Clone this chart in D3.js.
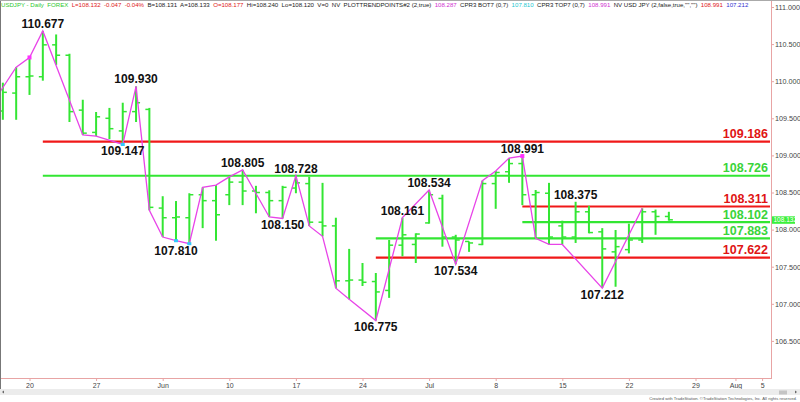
<!DOCTYPE html>
<html><head><meta charset="utf-8">
<script src="https://cdn.jsdelivr.net/npm/d3@7"></script>
<style>
body{margin:0;background:#fff}
svg{display:block}
text{font-family:Arial,"Liberation Sans",sans-serif}
</style>
</head><body>
<svg id="c" width="800" height="402"></svg>
<script>
// ---------------- DATA ----------------
const dates = ["2019-05-16","2019-05-17",
 "2019-05-20","2019-05-21","2019-05-22","2019-05-23","2019-05-24",
 "2019-05-27","2019-05-28","2019-05-29","2019-05-30","2019-05-31",
 "2019-06-03","2019-06-04","2019-06-05","2019-06-06","2019-06-07",
 "2019-06-10","2019-06-11","2019-06-12","2019-06-13","2019-06-14",
 "2019-06-17","2019-06-18","2019-06-19","2019-06-20","2019-06-21",
 "2019-06-24","2019-06-25","2019-06-26","2019-06-27","2019-06-28",
 "2019-07-01","2019-07-02","2019-07-03","2019-07-04","2019-07-05",
 "2019-07-08","2019-07-09","2019-07-10","2019-07-11","2019-07-12",
 "2019-07-15","2019-07-16","2019-07-17","2019-07-18","2019-07-19",
 "2019-07-22","2019-07-23","2019-07-24","2019-07-25"];
const openV  = [109.60,109.84,110.06,110.06,110.49,110.35,109.61,109.31,109.50,109.33,109.59,109.62,108.29,108.16,108.16,108.47,108.39,108.47,108.64,108.52,108.50,108.39,108.56,108.62,108.10,108.05,107.31,107.32,107.30,107.18,107.79,107.80,108.09,108.42,107.90,107.84,107.80,108.62,108.78,108.89,108.47,108.49,108.05,107.90,108.24,107.97,107.70,107.73,107.86,108.24,108.177];
const highV  = [109.98,110.19,110.32,110.677,110.63,110.37,109.75,109.585,109.64,109.71,109.930,109.64,108.45,108.385,108.49,108.57,108.60,108.71,108.805,108.59,108.53,108.59,108.728,108.71,108.63,108.16,107.74,107.55,107.415,107.86,108.161,107.95,108.534,108.47,107.93,107.84,108.66,108.79,108.965,108.991,108.534,108.63,108.12,108.375,108.32,108.02,107.995,108.08,108.287,108.27,108.240];
const lowV   = [109.48,109.48,109.815,110.007,110.22,109.45,109.275,109.26,109.22,109.147,109.45,108.26,107.90,107.85,107.81,108.02,107.85,108.33,108.33,108.22,108.17,108.150,108.49,108.05,107.91,107.21,107.06,107.24,106.775,107.08,107.64,107.55,108.08,107.77,107.534,107.70,107.79,108.28,108.63,108.33,107.883,107.80,107.80,107.82,107.95,107.212,107.23,107.68,107.82,107.93,108.120];
const closeV = [109.85,110.06,110.07,110.49,110.35,109.59,109.30,109.52,109.36,109.59,109.71,108.30,108.16,108.17,108.47,108.39,108.20,108.64,108.52,108.50,108.39,108.57,108.63,108.10,108.05,107.31,107.32,107.29,107.16,107.79,107.93,107.94,108.47,107.90,107.86,107.82,108.62,108.77,108.89,108.47,108.50,107.90,107.90,108.24,107.96,107.74,107.77,107.86,108.24,108.177,108.132];

// swing ("trend points") polyline
const trendDates  = ["2019-05-15","2019-05-17","2019-05-20","2019-05-21","2019-05-24","2019-05-27","2019-05-29","2019-05-30","2019-05-31","2019-06-03","2019-06-04","2019-06-05","2019-06-06","2019-06-07","2019-06-10","2019-06-11","2019-06-13","2019-06-14","2019-06-17","2019-06-18","2019-06-19","2019-06-20","2019-06-21","2019-06-25","2019-06-27","2019-07-01","2019-07-03","2019-07-05","2019-07-08","2019-07-09","2019-07-10","2019-07-11","2019-07-12","2019-07-15","2019-07-18","2019-07-23"];
const trendValues = [109.64,110.19,110.32,110.677,109.275,109.26,109.147,109.930,108.26,107.90,107.85,107.81,108.57,108.60,108.71,108.805,108.17,108.150,108.728,108.05,107.91,107.21,107.06,106.775,108.161,108.534,107.534,108.66,108.79,108.965,108.991,107.883,107.80,107.80,107.212,108.287];

// swing labels
const pivotDates  = ["2019-05-21","2019-05-29","2019-05-30","2019-06-04","2019-06-11","2019-06-14","2019-06-17","2019-06-25","2019-06-27","2019-07-01","2019-07-03","2019-07-10","2019-07-16","2019-07-18"];
const pivotValues = [110.677,109.147,109.930,107.810,108.805,108.150,108.728,106.775,108.161,108.534,107.534,108.991,108.375,107.212];
const pivotSide   = ["above","below","above","below","above","below","above","below","above","above","below","above","above","below"];

// horizontal levels
const levelValues = [109.186,108.726,108.311,108.102,107.883,107.622];
const levelStart  = ["2019-05-21","2019-05-21","2019-07-10","2019-07-10","2019-06-25","2019-06-25"];
const levelKind   = ["res","sup","res","sup","sup","res"];

// markers
const magentaMarkDates = ["2019-05-20","2019-07-10"];
const magentaMarkVals  = [110.32,108.991];
const cyanMarkDates = ["2019-05-29","2019-06-04","2019-06-05"];
const cyanMarkVals  = [109.147,107.85,107.81];

// axis ticks
const xTickDates  = ["2019-05-20","2019-05-27","2019-06-03","2019-06-10","2019-06-17","2019-06-24","2019-07-01","2019-07-08","2019-07-15","2019-07-22","2019-07-29","2019-08-01","2019-08-05"];
const xTickLabels = ["20","27","Jun","10","17","24","Jul","8","15","22","29","Aug","5"];
const yTicks = [106.5,107.0,107.5,108.0,108.5,109.0,109.5,110.0,110.5,111.0];
const lastPrice = 108.132;

// header segments
const headerSegs = [
 ["USDJPY - Daily  FOREX","#2ec82e"],["L=108.132  -0.047  -0.04%","#e02020"],["B=108.131  A=108.133","#222"],
 ["O=108.177","#e02020"],["Hi=108.240  Lo=108.120  V=0  NV  PLOTTRENDPOINTS#2 (2,true)","#222"],["108.287","#d030d0"],
 ["CPR3 BOT7 (0,7)","#222"],["107.810","#20c8d0"],["CPR3 TOP7 (0,7)","#222"],["108.991","#d030d0"],
 ["NV USD JPY (2,false,true,\"\",\"\")","#222"],["108.991","#e02020"],["107.212","#3030d0"]];

// ---------------- DRAW ----------------
const svg = d3.select("#c");
const W = 800, H = 402, axisX = 771, axisY = 378;
const BASE = new Date(2019,4,20);
function dayIndex(s){
  const p = s.split("-").map(Number);
  const d = new Date(p[0],p[1]-1,p[2]);
  const days = Math.round((d - BASE)/864e5);
  const wk = Math.floor(days/7), rem = days - wk*7;
  return wk*5 + Math.min(rem,5);
}
const x = d3.scaleLinear().domain([0,55]).range([29.5, 29.5+55*13.32]);
const y = d3.scaleLinear().domain([106,111]).range([axisY,7]);
const GREEN = "#33e633", RED = "#f01818", MAG = "#e844e8";

svg.append("rect").attr("width",W).attr("height",H).attr("fill","#fff");
svg.append("defs").append("clipPath").attr("id","pc")
  .append("rect").attr("x",1).attr("y",0).attr("width",axisX-1).attr("height",axisY);
const plot = svg.append("g").attr("clip-path","url(#pc)");

// levels
levelValues.forEach((v,i)=>{
  const col = levelKind[i]==="res" ? RED : GREEN;
  plot.append("line").attr("x1",x(dayIndex(levelStart[i]))).attr("x2",axisX-1)
    .attr("y1",y(v)).attr("y2",y(v)).attr("stroke",col).attr("stroke-width",2.2);
  svg.append("text").attr("x",768).attr("y",y(v)-3.5).attr("text-anchor","end")
    .attr("font-size",12.5).attr("font-weight","bold").attr("fill",levelKind[i]==="res"?"#e01414":"#3ad43a")
    .text(d3.format(".3f")(v));
});

// bars
const bars = plot.append("g");
dates.forEach((d,i)=>{
  const xi = x(dayIndex(d));
  bars.append("line").attr("x1",xi).attr("x2",xi).attr("y1",y(highV[i])).attr("y2",y(lowV[i]))
    .attr("stroke",GREEN).attr("stroke-width",2);
  bars.append("line").attr("x1",xi-4).attr("x2",xi).attr("y1",y(openV[i])).attr("y2",y(openV[i]))
    .attr("stroke",GREEN).attr("stroke-width",1.5);
  bars.append("line").attr("x1",xi).attr("x2",xi+4).attr("y1",y(closeV[i])).attr("y2",y(closeV[i]))
    .attr("stroke",GREEN).attr("stroke-width",1.5);
});

// trend line
plot.append("path")
  .datum(trendDates.map((d,i)=>[x(dayIndex(d)), y(trendValues[i])]))
  .attr("d", d3.line()).attr("fill","none").attr("stroke",MAG).attr("stroke-width",1.3);

magentaMarkDates.forEach((d,i)=>{
  plot.append("rect").attr("x",x(dayIndex(d))-2).attr("y",y(magentaMarkVals[i])-2)
   .attr("width",4).attr("height",4).attr("fill","#ff30ff");
});
cyanMarkDates.forEach((d,i)=>{
  plot.append("rect").attr("x",x(dayIndex(d))-2).attr("y",y(cyanMarkVals[i])-1.5)
   .attr("width",4).attr("height",3).attr("fill","#30c8ff");
});

// pivot labels
pivotDates.forEach((d,i)=>{
  svg.append("text").attr("x",x(dayIndex(d))).attr("y", y(pivotValues[i]) + (pivotSide[i]==="above"?-3:11))
    .attr("text-anchor","middle").attr("font-size",12).attr("font-weight","bold").attr("fill","#111")
    .text(d3.format(".3f")(pivotValues[i]));
});

// axes
const AX = "#e8a4a4";
const yAxis = svg.append("g").attr("transform",`translate(${axisX},0)`)
  .call(d3.axisRight(y).tickValues(yTicks).tickFormat(d3.format(".3f")).tickSize(3).tickSizeOuter(0));
yAxis.select(".domain").remove();
yAxis.selectAll(".tick line").attr("stroke",AX);
yAxis.selectAll(".tick text").attr("x",4).attr("font-size",7.2).attr("fill","#444").attr("font-family","Arial");
svg.append("line").attr("x1",axisX+0.5).attr("x2",axisX+0.5).attr("y1",0).attr("y2",axisY).attr("stroke",AX);

const xAxis = svg.append("g").attr("transform",`translate(0,${axisY})`)
  .call(d3.axisBottom(x).tickValues(xTickDates.map(dayIndex)).tickFormat((d,i)=>xTickLabels[i]).tickSize(3).tickSizeOuter(0));
xAxis.select(".domain").remove();
xAxis.selectAll(".tick line").attr("stroke",AX);
xAxis.selectAll(".tick text").attr("y",5).attr("font-size",7).attr("fill","#444").attr("font-family","Arial");
svg.append("line").attr("x1",0).attr("x2",axisX+1).attr("y1",axisY+0.5).attr("y2",axisY+0.5).attr("stroke",AX);

// last price box
svg.append("rect").attr("x",axisX+1).attr("y",y(lastPrice)-3.5).attr("width",23).attr("height",7.5).attr("fill","#3cf03c");
svg.append("text").attr("x",axisX+2.5).attr("y",y(lastPrice)+2.5).attr("font-size",6.5).attr("fill","#fff").text(d3.format(".3f")(lastPrice));

// frame
svg.append("line").attr("x1",0.5).attr("x2",0.5).attr("y1",0).attr("y2",389).attr("stroke","#777");
svg.append("line").attr("x1",0).attr("x2",W).attr("y1",0.5).attr("y2",0.5).attr("stroke","#aaa");

// header
const ht = svg.append("text").attr("x",1).attr("y",6.6).attr("font-size",6.1).attr("xml:space","preserve");
headerSegs.forEach((s,i)=>{ ht.append("tspan").attr("fill",s[1]).text((i?"  ":"")+s[0]); });

// scrollbar + footer
svg.append("rect").attr("x",0).attr("y",389).attr("width",W).attr("height",6).attr("fill","#ececec");
svg.append("rect").attr("x",779).attr("y",390.5).attr("width",8).attr("height",4).attr("fill","#c4c4c4");
svg.append("path").attr("d","M2,392 L4,390.5 L4,393.5 Z").attr("fill","#666");
svg.append("path").attr("d","M797,392 L795,390.5 L795,393.5 Z").attr("fill","#666");
svg.append("text").attr("x",797).attr("y",399.5).attr("text-anchor","end").attr("font-size",4.2).attr("fill","#555")
  .text("Created with TradeStation. \u00A9TradeStation Technologies, Inc. All rights reserved.");
</script>
</body></html>
